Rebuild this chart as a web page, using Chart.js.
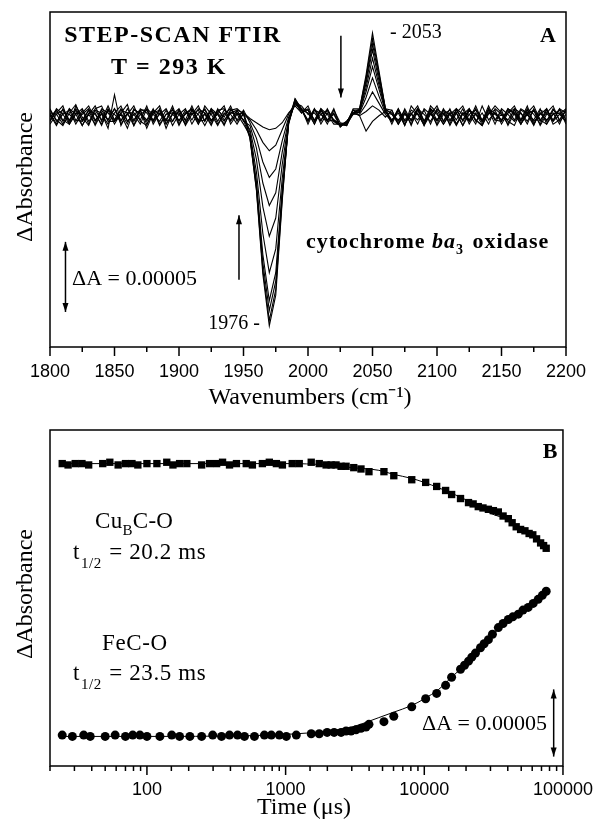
<!DOCTYPE html>
<html>
<head>
<meta charset="utf-8">
<script src="https://cdn.jsdelivr.net/npm/chart.js@4.4.1/dist/chart.umd.min.js"></script>
<style>
  body { margin: 0; background: #fff; }
  canvas { position: absolute; left: 0; }
</style>
</head>
<body>
<canvas id="specChart" width="598" height="412" style="top:0"></canvas>
<canvas id="kinChart" width="598" height="413" style="top:412px"></canvas>
<script>
// panel A: wavenumbers (cm-1) and difference spectra, dA in units of 1e-6
const wavenumbers = [
  1800,1805,1810,1815,1820,1825,1830,1835,1840,1845,
  1850,1855,1860,1865,1870,1875,1880,1885,1890,1895,
  1900,1905,1910,1915,1920,1925,1930,1935,1940,1945,
  1950,1955,1960,1965,1970,1975,1980,1985,1990,1995,
  2000,2005,2010,2015,2020,2025,2030,2035,2040,2045,
  2050,2055,2060,2065,2070,2075,2080,2085,2090,2095,
  2100,2105,2110,2115,2120,2125,2130,2135,2140,2145,
  2150,2155,2160,2165,2170,2175,2180,2185,2190,2195,2200
];
const spec1 = [3,-5,6,-2,5,-6,2,8,-3,5, -5,3,9,-6,2,5,-3,6,-8,3, 2,-5,5,-2,6,-3,3,8,-5,2, 3,-1,-4,-7,-9,-8,-4,3,8,3, 8,-3,5,-2,3,-6,-4,5,1,-10, -3,1,4,-3,5,-6,8,2,-5,6, -2,5,-6,3,8,-3,2,-5,6,-2, 5,-6,3,-2,8,-5,3,-3,6,-2,5];
const spec2 = [-3,6,2,-5,8,0,-6,5,3,-2, 6,-5,2,8,-3,-6,5,2,-2,8, -5,3,6,-3,2,-6,5,0,8,-3, 2,-2,-9,-18,-24,-20,-9,2,10,5, -2,6,-5,3,-2,-5,-6,3,1,4, 8,5,0,5,-5,3,-2,6,-6,2, 8,-3,3,-5,2,6,-2,-6,5,3, -3,6,2,-5,3,8,-2,-5,5,2,-3];
const spec3 = [5,-2,-6,3,9,-3,2,-5,6,3, -3,2,-8,5,3,-2,6,-5,2,5, -6,3,2,8,-3,5,-5,2,6,-2, 5,-4,-15,-32,-43,-37,-17,0,9,6, -5,5,2,-3,6,-7,-3,2,2,9, 18,10,2,-3,6,-5,2,8,-3,5, -6,2,5,-2,6,-5,3,-3,8,-2, 2,-5,6,3,-3,5,-6,2,3,-5,6];
const spec4 = [-2,3,8,-5,2,6,-3,3,-6,5, 2,-3,6,-2,5,-8,3,8,-5,2, 6,-3,3,-5,8,2,-6,3,-2,5, -3,-6,-22,-47,-63,-54,-25,-2,11,3, 5,-5,6,2,-5,-5,-4,5,3,14, 28,15,3,2,-5,6,-3,3,-6,8, 3,-5,2,6,-3,5,-2,-6,3,5, -5,3,8,-2,2,-6,5,3,-3,6,-2];
const spec5 = [6,-3,2,5,-5,3,8,-2,2,-5, 3,8,-3,2,-5,6,2,-3,5,-6, 2,6,-5,3,5,-2,2,-6,5,3, -2,-9,-30,-64,-85,-72,-34,-3,12,6, -3,6,-2,5,-3,-6,-5,2,4,18, 36,20,4,-2,3,-6,5,2,-5,3, -3,6,-2,3,-6,2,5,-3,2,8, 3,-3,-6,5,2,-2,6,-5,2,3,-3];
const spec6 = [0,5,-3,6,2,-6,3,5,-2,8, -2,5,3,-6,6,3,-3,2,6,-3, 5,-2,8,-3,-2,6,-3,5,2,-5, 3,-11,-39,-83,-111,-94,-44,-4,13,5, 3,-5,5,-2,2,-7,-3,3,4,21, 42,23,5,3,-3,5,-6,6,2,-3, 5,-3,6,-5,3,2,-5,8,-2,3, -2,6,3,-5,5,-3,2,6,-5,-2,5];
const spec7 = [-5,2,5,-3,6,-2,5,-6,3,-8, 16,-6,3,3,-2,8,-5,3,-3,6, -3,5,-2,6,3,-5,6,-2,3,2, -5,-13,-46,-98,-131,-111,-52,-5,12,3, 6,-3,2,5,-2,-5,-6,5,5,24, 48,26,5,-5,5,-2,3,-5,6,2, -2,3,-5,6,2,-3,6,-2,5,-5, 6,2,-3,3,-5,6,-2,3,8,-3,2];
const spec8 = [2,-6,3,2,-3,5,-5,6,8,-3, -3,3,-5,6,2,-3,5,-6,2,3, 3,-5,5,2,-6,3,3,-3,5,6, 2,-14,-48,-104,-138,-117,-55,-3,10,8, 2,3,-3,6,-3,-6,-4,3,5,26, 52,29,6,2,-2,3,-5,5,-3,6, 2,-5,3,3,-6,5,2,-3,6,-2, -3,5,-2,6,3,-5,3,-2,2,5,-5];
const spec9 = [-3,5,-2,-5,3,2,6,-3,5,-2, 6,-2,2,-3,5,5,-2,5,-5,2, -2,2,6,-5,3,-3,5,6,-3,3, -2,-15,-51,-109,-145,-123,-58,-4,11,5, -3,5,3,-5,5,-4,-5,6,6,28, 56,31,6,-3,6,-3,2,-2,5,-5, 6,2,-3,5,-2,6,-3,3,-5,6, 2,-2,5,-3,6,2,-5,5,-2,6,3];
const spec10 = [3,2,-5,6,-2,-3,5,2,-5,6, -2,6,-3,2,5,-5,3,5,-2,-3, 5,-6,2,5,-3,6,2,-5,3,5, 3,-15,-52,-112,-149,-127,-60,-2,13,6, 5,-2,6,-3,-2,-6,-3,3,6,30, 60,33,6,5,-5,2,-2,6,-3,3, -5,5,2,-6,3,-2,8,-3,3,2, -2,3,6,-5,2,5,-3,6,-3,2,6];
const spectra = [spec1, spec2, spec3, spec4, spec5, spec6, spec7, spec8, spec9, spec10];

// panel B: time (us) and dA in units of 1e-6
const cuTime = [24.5,27,30.4,34,38,48,54,62,70,78,86,100,118,139,154,172,194,248,283,318,351,394,442,520,576,680,763,858,948,1116,1254,1530,1748,1960,
  2130,2310,2512,2729,3100,3495,3990,5117,6028,8120,10230,12280,14250,15740,18250,20840,22500,24500,26500,28990,31500,34200,37000,40360,43000,46000,49500,53200,57000,60600,64500,69000,72500,75700];
const cuValues = [225,224,225,225,224,225,226,224,225,225,224,225,225,226,224,225,225,224,225,225,226,224,225,225,224,225,226,225,224,225,225,226,225,224,
  224,224,223,223,222,221,219,219,216,213,211,208,205,202,199,196,195,193,192,191,190,189,186,184,181,178,176,175,173,172,169,166,164,162];
const feTime = [24.5,29,35,39,50,59,70,79,89,100,124,151,172,204,248,298,345,394,450,505,596,703,789,901,1012,1194,
  1530,1748,1993,2238,2512,2729,2963,3220,3495,3797,3990,5117,6028,8120,10230,12280,14250,15740,18250,19500,20840,22000,23400,25420,27000,28990,31000,34200,37000,40360,43500,47620,51500,56120,61000,66240,71000,75700];
const feValues = [23,22,23,22,22,23,22,23,23,22,22,23,22,22,22,23,22,23,23,22,22,23,23,23,22,23,
  24,24,25,25,25,26,26,27,28,29,31,33,37,44,50,54,60,66,72,75,78,81,84,88,91,94,98,103,106,109,111,113,116,118,121,124,127,130];
const fitTime = [24.5,100,500,1000,2000,3000,4700,6000,8100,10000,12700,15700,20000,25000,30000,40000,50000,60000,75700];
const cuFit = [225,225,225,225,224,222,220,217,214,211,207,203,198,192,188,183,176,171,162];
const feFit = [22,22,22.5,23.5,26,29,36,40,45,50,57,66,76,87,96,108,116,122,130];

const xTicksA = [1800, 1850, 1900, 1950, 2000, 2050, 2100, 2150, 2200];
const xTicksB = [100, 1000, 10000, 100000];

const SERIF = '"Liberation Serif", "Times New Roman", serif';
const SANS = '"Liberation Sans", Arial, sans-serif';

function pairs(xs, ys) {
  return xs.map((x, i) => ({ x: x, y: ys[i] }));
}

// text made of runs (for sub/superscripts)
function runs(ctx, x, y, parts, spacing) {
  ctx.textAlign = 'left';
  ctx.textBaseline = 'alphabetic';
  ctx.letterSpacing = spacing || '0px';
  parts.forEach(p => {
    ctx.font = p.font;
    ctx.fillText(p.t, x, y + (p.dy || 0));
    x += ctx.measureText(p.t).width + (p.gap || 0);
  });
  ctx.letterSpacing = '0px';
}

function vArrow(ctx, x, y1, y2, both) {
  ctx.beginPath();
  ctx.moveTo(x, y1);
  ctx.lineTo(x, y2);
  ctx.stroke();
  const head = (yTip, dir) => {
    ctx.beginPath();
    ctx.moveTo(x, yTip);
    ctx.lineTo(x - 3, yTip - dir * 9);
    ctx.lineTo(x + 3, yTip - dir * 9);
    ctx.closePath();
    ctx.fill();
  };
  head(y2, y2 > y1 ? 1 : -1);
  if (both) head(y1, y1 > y2 ? 1 : -1);
}

function frameAndTicks(chart, isMajor) {
  const ctx = chart.ctx, sx = chart.scales.x, a = chart.chartArea;
  ctx.save();
  ctx.strokeStyle = '#000';
  ctx.lineWidth = 1.5;
  sx.ticks.forEach(t => {
    const px = sx.getPixelForValue(t.value);
    const len = isMajor(t.value) ? 9 : 5;
    ctx.beginPath();
    ctx.moveTo(px, a.bottom);
    ctx.lineTo(px, a.bottom + len);
    ctx.stroke();
  });
  ctx.strokeRect(a.left, a.top, a.right - a.left, a.bottom - a.top);
  ctx.restore();
}

function yTitle(ctx, x, y) {
  ctx.save();
  ctx.translate(x, y);
  ctx.rotate(-Math.PI / 2);
  ctx.font = '24px ' + SERIF;
  ctx.textAlign = 'center';
  ctx.textBaseline = 'alphabetic';
  ctx.fillStyle = '#000';
  ctx.fillText('ΔAbsorbance', 0, 0);
  ctx.restore();
}

function centered(ctx, text, x, y, font, spacing) {
  ctx.font = font;
  ctx.letterSpacing = spacing || '0px';
  ctx.textAlign = 'center';
  ctx.textBaseline = 'alphabetic';
  ctx.fillText(text, x, y);
  ctx.letterSpacing = '0px';
}

const specDecor = {
  id: 'specDecor',
  afterDraw(chart) {
    const ctx = chart.ctx, sx = chart.scales.x, sy = chart.scales.y;
    frameAndTicks(chart, v => v % 50 === 0);
    ctx.save();
    ctx.fillStyle = '#000';
    ctx.strokeStyle = '#000';
    ctx.lineWidth = 1.5;
    yTitle(ctx, 32, 177);
    centered(ctx, 'Wavenumbers (cm⁻¹)', 310, 404, '24px ' + SERIF);

    centered(ctx, 'STEP-SCAN FTIR', 173, 42, 'bold 24px ' + SERIF, '1.5px');
    centered(ctx, 'T = 293 K', 169, 74, 'bold 24px ' + SERIF, '1.5px');
    centered(ctx, 'A', 548, 42, 'bold 22px ' + SERIF);

    ctx.font = '20px ' + SERIF;
    ctx.textAlign = 'left';
    ctx.fillText('- 2053', 390, 38);
    ctx.textAlign = 'right';
    ctx.fillText('1976 -', 260, 329);

    runs(ctx, 306, 248, [
      { t: 'cytochrome ', font: 'bold 22px ' + SERIF },
      { t: 'ba', font: 'italic bold 22px ' + SERIF },
      { t: '3', font: 'bold 14px ' + SERIF, dy: 6, gap: 2 },
      { t: ' oxidase', font: 'bold 22px ' + SERIF }
    ], '1px');
    runs(ctx, 72, 285, [{ t: 'ΔA = 0.00005', font: '22px ' + SERIF }]);

    // scale bar (50e-6) and time arrows
    const xb = sx.getPixelForValue(1812);
    vArrow(ctx, xb, sy.getPixelForValue(-89), sy.getPixelForValue(-139), true);
    vArrow(ctx, sx.getPixelForValue(2025.5), sy.getPixelForValue(58), sy.getPixelForValue(14), false);
    vArrow(ctx, sx.getPixelForValue(1946.5), sy.getPixelForValue(-116), sy.getPixelForValue(-70), false);
    ctx.restore();
  }
};

const kinDecor = {
  id: 'kinDecor',
  afterDraw(chart) {
    const ctx = chart.ctx, sx = chart.scales.x, sy = chart.scales.y;
    frameAndTicks(chart, v => Math.abs(Math.log10(v) - Math.round(Math.log10(v))) < 1e-9);
    ctx.save();
    ctx.fillStyle = '#000';
    ctx.strokeStyle = '#000';
    ctx.lineWidth = 1.5;
    yTitle(ctx, 32, 182);
    centered(ctx, 'Time (μs)', 304, 402, '24px ' + SERIF);
    centered(ctx, 'B', 550, 46, 'bold 22px ' + SERIF);

    const big = '23px ' + SERIF, sub = '15px ' + SERIF;
    runs(ctx, 95, 116, [{ t: 'Cu', font: big }, { t: 'B', font: sub, dy: 7 }, { t: 'C-O', font: big }], '0.3px');
    runs(ctx, 73, 147, [{ t: 't', font: big, gap: 1 }, { t: '1/2', font: sub, dy: 9, gap: 1 }, { t: ' = 20.2 ms', font: big }], '0.6px');
    runs(ctx, 102, 238, [{ t: 'FeC-O', font: big }], '0.6px');
    runs(ctx, 73, 268, [{ t: 't', font: big, gap: 1 }, { t: '1/2', font: sub, dy: 9, gap: 1 }, { t: ' = 23.5 ms', font: big }], '0.6px');
    runs(ctx, 422, 318, [{ t: 'ΔA = 0.00005', font: '22px ' + SERIF }]);

    vArrow(ctx, sx.getPixelForValue(85700), sy.getPixelForValue(57), sy.getPixelForValue(7), true);
    ctx.restore();
  }
};

const tickFont = { family: SANS, size: 18 };

new Chart(document.getElementById('specChart'), {
  type: 'line',
  data: {
    datasets: spectra.map((s, i) => ({
      label: 'spectrum ' + (i + 1),
      data: pairs(wavenumbers, s),
      borderColor: '#000',
      borderWidth: 1.1,
      pointRadius: 0,
      tension: 0
    }))
  },
  options: {
    responsive: false,
    animation: false,
    devicePixelRatio: 1,
    layout: { autoPadding: false, padding: { left: 50, right: 32, top: 12, bottom: 0 } },
    plugins: { legend: { display: false }, tooltip: { enabled: false } },
    scales: {
      x: {
        type: 'linear', min: 1800, max: 2200,
        grid: { display: false },
        border: { display: false },
        ticks: {
          stepSize: 25, autoSkip: false, maxRotation: 0, padding: 6,
          color: '#000', font: tickFont,
          callback: v => xTicksA.includes(v) ? String(v) : ''
        },
        afterFit: axis => { axis.height = 65; }
      },
      y: { display: false, min: -164, max: 75 }
    }
  },
  plugins: [specDecor]
});

new Chart(document.getElementById('kinChart'), {
  type: 'line',
  data: {
    datasets: [
      { label: 'CuB fit', data: pairs(fitTime, cuFit), borderColor: '#000', borderWidth: 1, pointRadius: 0, cubicInterpolationMode: 'monotone' },
      { label: 'Fe fit', data: pairs(fitTime, feFit), borderColor: '#000', borderWidth: 1, pointRadius: 0, cubicInterpolationMode: 'monotone' },
      { label: 'CuB C-O', data: pairs(cuTime, cuValues), showLine: false, pointStyle: 'rect', pointRadius: 5.2, backgroundColor: '#000', borderColor: '#000', borderWidth: 0 },
      { label: 'FeC-O', data: pairs(feTime, feValues), showLine: false, pointStyle: 'circle', pointRadius: 4.5, backgroundColor: '#000', borderColor: '#000', borderWidth: 0 }
    ]
  },
  options: {
    responsive: false,
    animation: false,
    devicePixelRatio: 1,
    layout: { autoPadding: false, padding: { left: 50, right: 32, top: 18, bottom: 0 } },
    plugins: { legend: { display: false }, tooltip: { enabled: false } },
    scales: {
      x: {
        type: 'logarithmic', min: 20, max: 100000,
        grid: { display: false },
        border: { display: false },
        ticks: {
          autoSkip: false, maxRotation: 0, padding: 5,
          color: '#000', font: tickFont,
          callback: v => xTicksB.includes(v) ? String(v) : ''
        },
        afterFit: axis => { axis.height = 59; }
      },
      y: { display: false, min: 0, max: 250 }
    }
  },
  plugins: [kinDecor]
});
</script>
</body>
</html>
